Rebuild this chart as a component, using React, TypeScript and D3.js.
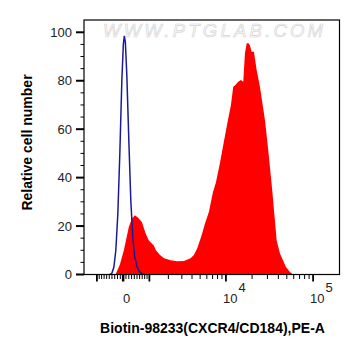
import React from "react";
import * as d3 from "d3";

// ---- data (fluorescence value, relative count) ----
const controlX = [-479, -404, -331, -259, -188, -117, -46, 7, 42, 78, 131, 202, 274, 346, 419, 494, 570, 687, 767];
const controlY = [0, 0.5, 3, 10, 25, 50, 80, 95, 98.5, 96, 82, 55, 30, 15, 7, 3.5, 1.5, 0.3, 0];

const sampleX = [-270, -117, 25, 202, 310, 419, 532, 687, 837, 977, 1203, 1303, 1515, 1739, 2147, 2600, 3181, 3844, 4214, 4620, 4970, 5291, 5693, 6350, 7067, 7655, 8531, 9486, 10543, 11419, 12141, 12695, 13857, 14881, 15830, 16552, 17314, 18063, 18892, 19761, 21004, 22555, 24614, 28104, 30500, 34000, 38265, 41755, 48908, 54362, 58841];
const sampleY = [0, 4, 10, 19.7, 23, 24.5, 23.5, 21.7, 17, 14, 12, 10, 8, 6.7, 5.9, 5.5, 5.6, 6.7, 8, 10.8, 14, 17, 21, 25.9, 34, 38, 46, 55, 63.7, 70, 77.5, 78, 79.6, 80.3, 79.6, 91.3, 95.4, 95.6, 94.7, 92, 92, 84.4, 77.5, 63.7, 52, 35, 14, 8.7, 3.1, 1, 0];

const yTicks = [0, 20, 40, 60, 80, 100];
const yMinor = d3.range(5, 105, 5).filter((v) => v % 20 !== 0);
const xMajor = [-1000, 0, 1000, 10000, 100000];
const xMinor = [
  ...d3.range(-900, 1000, 100).filter((v) => v !== 0),
  ...d3.range(2000, 10000, 1000),
  ...d3.range(20000, 100000, 10000),
];
const xLabels = [
  { v: 0, base: "0", exp: "" },
  { v: 10000, base: "10", exp: "4" },
  { v: 100000, base: "10", exp: "5" },
];
const xTitle = "Biotin-98233(CXCR4/CD184),PE-A";
const yTitle = "Relative cell number";
const watermark = "WWW.PTGLAB.COM";

const W = 1337;
const T = (v: number) => Math.asinh(v / W);
const L = 84, R = 339.5, TOP = 20, BOT = 274.5;

export default function App() {
  const xt = d3.scaleLinear().domain([T(-1638), T(200600)]).range([L, R]);
  const x = (v: number) => xt(T(v));
  const y = d3.scaleLinear().domain([0, 100]).range([BOT, 32.3]);

  const red = sampleX.map((v, i) => [v, sampleY[i]] as [number, number]);
  const blue = controlX.map((v, i) => [v, controlY[i]] as [number, number]);
  const area = d3.area<[number, number]>().x((d) => x(d[0])).y0(y(0)).y1((d) => y(d[1]));
  const line = d3.line<[number, number]>().x((d) => x(d[0])).y((d) => y(d[1]));

  const font = "Arial, 'Liberation Sans', sans-serif";
  return (
    <svg width={361} height={356} style={{ position: "absolute", left: 0, top: 0, background: "#fff" }} fontFamily={font}>
      <rect x={0} y={0} width={361} height={356} fill="#fff" />
      <defs>
        <clipPath id="plot">
          <rect x={L} y={TOP} width={R - L} height={BOT - TOP} />
        </clipPath>
      </defs>
      <text x={213} y={37} textAnchor="middle" fontSize={18.5} textLength={220} lengthAdjust="spacing" fill="#fafafa" stroke="#d2d2d2" strokeWidth={0.6} fontStyle="italic">
        {watermark}
      </text>
      <g clipPath="url(#plot)">
        <path d={area(red) || ""} fill="#ff0000" />
        <path d={line(blue) || ""} fill="none" stroke="#1a1a99" strokeWidth={1.5} />
      </g>
      <rect x={L} y={TOP} width={R - L} height={BOT - TOP} fill="none" stroke="#000" strokeWidth={1.2} />
      {/* y axis */}
      {yTicks.map((t) => (
        <g key={"y" + t}>
          <line x1={76} x2={L} y1={y(t)} y2={y(t)} stroke="#000" strokeWidth={2} />
          <text x={72} y={y(t) + 4.5} textAnchor="end" fontSize={13} fill="#222">{t}</text>
        </g>
      ))}
      {yMinor.map((t) => (
        <line key={"ym" + t} x1={80.5} x2={L} y1={y(t)} y2={y(t)} stroke="#000" strokeWidth={1} />
      ))}
      {/* x axis */}
      {xMajor.map((t) => (
        <line key={"xM" + t} x1={x(t)} x2={x(t)} y1={BOT} y2={BOT + 7} stroke="#000" strokeWidth={t === 0 ? 2.5 : 1.8} />
      ))}
      {xMinor.map((t) => (
        <line key={"xm" + t} x1={x(t)} x2={x(t)} y1={BOT} y2={BOT + 4.5} stroke="#000" strokeWidth={1} />
      ))}
      {xLabels.map((l) =>
        l.exp ? (
          <g key={"xl" + l.v}>
            <text x={x(l.v) - 3} y={303} fontSize={13} fill="#222">{l.base}</text>
            <text x={x(l.v) + 12.5} y={292} fontSize={13} fill="#222">{l.exp}</text>
          </g>
        ) : (
          <text key={"xl" + l.v} x={x(l.v) + 3.5} y={303} textAnchor="middle" fontSize={13} fill="#222">{l.base}</text>
        )
      )}
      <text x={212.5} y={333} textAnchor="middle" fontSize={14} fontWeight="bold" fill="#000">{xTitle}</text>
      <text transform="translate(32,142.5) rotate(-90)" textAnchor="middle" fontSize={14} fontWeight="bold" fill="#000">{yTitle}</text>
    </svg>
  );
}
